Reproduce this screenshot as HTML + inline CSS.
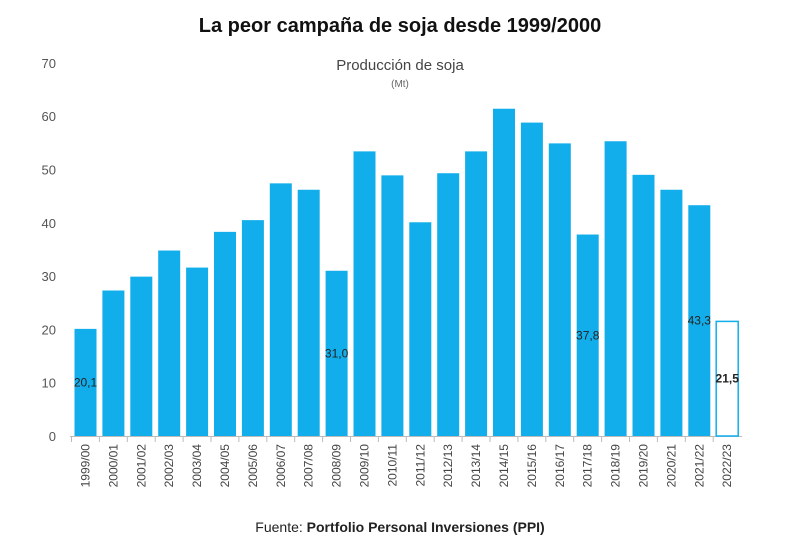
<!DOCTYPE html>
<html><head><meta charset="utf-8"><style>
body{margin:0;background:#fff;font-family:"Liberation Sans",sans-serif}
svg{display:block}
</style></head><body>
<svg id="c" width="800" height="559">
<text x="400" y="32" text-anchor="middle" font-size="20" font-weight="bold" fill="#111">La peor campaña de soja desde 1999/2000</text>
<text x="400" y="70" text-anchor="middle" font-size="15" fill="#444">Producción de soja</text>
<text x="400" y="87" text-anchor="middle" font-size="10" fill="#666">(Mt)</text>
<text x="400" y="532" text-anchor="middle" font-size="14" fill="#222">Fuente: <tspan font-weight="bold">Portfolio Personal Inversiones (PPI)</tspan></text>
<g id="g"></g>
</svg>
<script>
const categories=["1999/00","2000/01","2001/02","2002/03","2003/04","2004/05","2005/06","2006/07","2007/08","2008/09","2009/10","2010/11","2011/12","2012/13","2013/14","2014/15","2015/16","2016/17","2017/18","2018/19","2019/20","2020/21","2021/22","2022/23"];
const values=[20.1,27.3,29.9,34.8,31.6,38.3,40.5,47.4,46.2,31.0,53.4,48.9,40.1,49.3,53.4,61.4,58.8,54.9,37.8,55.3,49.0,46.2,43.3,21.5];
const labeled=["20,1",null,null,null,null,null,null,null,null,"31,0",null,null,null,null,null,null,null,null,"37,8",null,null,null,"43,3","21,5"];
const ticks=[0,10,20,30,40,50,60,70];
const NS="http://www.w3.org/2000/svg",g=document.getElementById('g');
const y=v=>436-v*5.33, x=i=>85.5+i*27.9;
function el(t,a){const e=document.createElementNS(NS,t);for(const k in a)e.setAttribute(k,a[k]);g.appendChild(e);return e;}
ticks.forEach(t=>{const e=el('text',{x:56,y:y(t)+5,'text-anchor':'end','font-size':13,fill:'#555'});e.textContent=t;

});
const ax=el('line',{x1:70,x2:742,y1:436.5,y2:436.5,stroke:'#bbb','stroke-width':1});


values.forEach((v,i)=>{const last=i===values.length-1;
const r=el('rect',{x:x(i)-11,y:y(v),width:22,height:436-y(v),fill:last?'#fff':'#12aeeb',stroke:last?'#12aeeb':'none','stroke-width':1.5});


const tk=el('line',{x1:x(i)-14,x2:x(i)-14,y1:436,y2:442,stroke:'#bbb'});


const t=el('text',{transform:`translate(${x(i)+4},${444}) rotate(-90)`,'text-anchor':'end','font-size':12,fill:'#444'});t.textContent=categories[i];


if(labeled[i]){const l=el('text',{x:x(i),y:y(v/2)+4,'text-anchor':'middle','font-size':12,fill:'#222','font-weight':last?'bold':'normal'});l.textContent=labeled[i];

}
});
</script>
</body></html>
